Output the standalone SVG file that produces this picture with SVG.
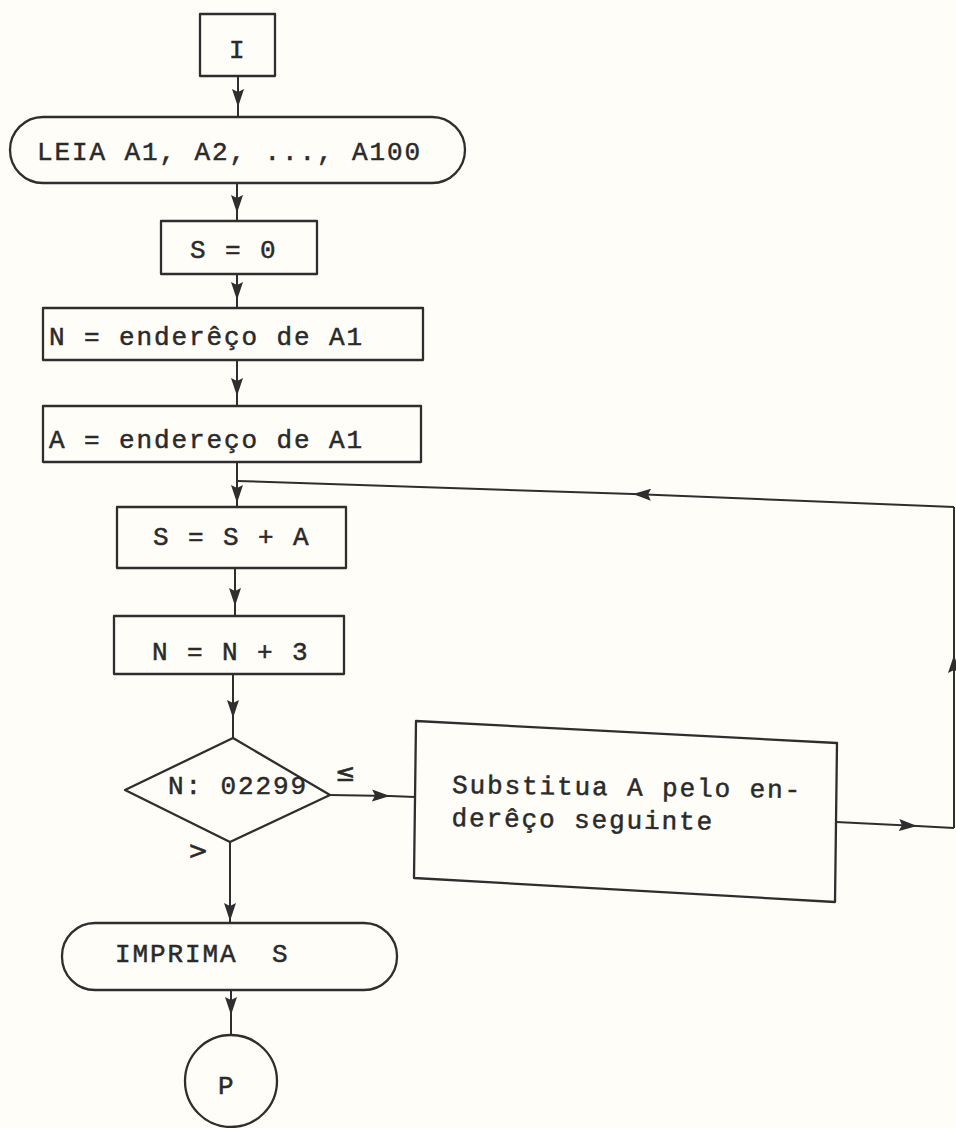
<svg xmlns="http://www.w3.org/2000/svg" width="956" height="1128" viewBox="0 0 956 1128">
  <style>
    .shape { fill: none; stroke: #2e2e2e; stroke-width: 2.3; stroke-linejoin: round; }
    .conn { fill: none; stroke: #2e2e2e; stroke-width: 2; marker-mid: url(#ah); }
    .t { font-family: "Liberation Mono", "DejaVu Sans Mono", monospace; font-size: 26px; letter-spacing: 1.9px; fill: #2a2a2a; stroke: #2a2a2a; stroke-width: 0.5; }
    .sym { font-family: "DejaVu Sans", "Liberation Sans", sans-serif; font-size: 24px; fill: #2a2a2a; stroke: #2a2a2a; stroke-width: 0.6; text-anchor: middle; }
  </style>
  <defs>
    <marker id="ah" viewBox="0 0 18 12" refX="18" refY="6" markerWidth="18" markerHeight="12" markerUnits="userSpaceOnUse" orient="auto">
      <path d="M0,0 L18,6 L0,12 L3,6 z" fill="#2e2e2e"/>
    </marker>
  </defs>

  <rect width="956" height="1128" fill="#fefdf8"/>

  <!-- connectors -->
  <g id="connectors">
    <path class="conn" d="M238 76 L238 107 L238 118"/>
    <path class="conn" d="M237 183 L237 213 L237 221"/>
    <path class="conn" d="M237 274 L237 300 L237 308"/>
    <path class="conn" d="M237 360 L237 396 L237 406"/>
    <path class="conn" d="M237 462 L237 503 L237 507"/>
    <path class="conn" d="M235 568 L235 606 L235 616"/>
    <path class="conn" d="M233 674 L233 718 L233 738"/>
    <path class="conn" d="M230 842 L230 921 L230 924"/>
    <path class="conn" d="M231 990 L231 1015 L231 1035"/>
    <!-- "<=" branch into the replacement step -->
    <path class="conn" d="M330 795 L390 796 L415 797"/>
    <!-- loop back to the summation -->
    <path class="conn" d="M836 822 L917 826 L954 828"/>
    <path class="conn" d="M954 828 L954 655 L954 507"/>
    <path class="conn" d="M954 507 L633 494 L237 481"/>
  </g>

  <g id="start">
    <rect class="shape" x="200" y="14" width="75" height="62"/>
    <text class="t" x="229" y="58">I</text>
  </g>

  <g id="read">
    <rect class="shape" x="10" y="117" width="455" height="66" rx="33" ry="33"/>
    <text class="t" x="37" y="160">LEIA A1, A2, ..., A100</text>
  </g>

  <g id="init-s">
    <rect class="shape" x="161" y="221" width="156" height="53"/>
    <text class="t" x="190" y="258">S = 0</text>
  </g>

  <g id="init-n">
    <rect class="shape" x="43" y="308" width="380" height="52"/>
    <text class="t" x="49" y="345">N = enderêço de A1</text>
  </g>

  <g id="init-a">
    <rect class="shape" x="43" y="406" width="378" height="56"/>
    <text class="t" x="49" y="448">A = endereço de A1</text>
  </g>

  <g id="sum">
    <rect class="shape" x="117" y="507" width="229" height="61"/>
    <text class="t" x="153" y="545">S = S + A</text>
  </g>

  <g id="step-n">
    <rect class="shape" x="114" y="616" width="230" height="58"/>
    <text class="t" x="152" y="660">N = N + 3</text>
  </g>

  <g id="test">
    <polygon class="shape" points="233,738 330,795 230,842 125,790"/>
    <text class="t" x="168" y="794">N: 02299</text>
    <text class="sym" x="345" y="781">≤</text>
    <text class="sym" x="198" y="859">&gt;</text>
  </g>

  <g id="next-address">
    <polygon class="shape" points="416,721 837,743 835,902 414,878"/>
    <g transform="rotate(0.8 452 793)">
      <text class="t" x="452" y="793">Substitua A pelo en-</text>
      <text class="t" x="452" y="826">derêço seguinte</text>
    </g>
  </g>

  <g id="print">
    <rect class="shape" x="62" y="923" width="335" height="67" rx="33" ry="33"/>
    <text class="t" x="115" y="962">IMPRIMA<tspan x="272">S</tspan></text>
  </g>

  <g id="stop">
    <circle class="shape" cx="231" cy="1081" r="46"/>
    <text class="t" x="218" y="1094">P</text>
  </g>
</svg>
